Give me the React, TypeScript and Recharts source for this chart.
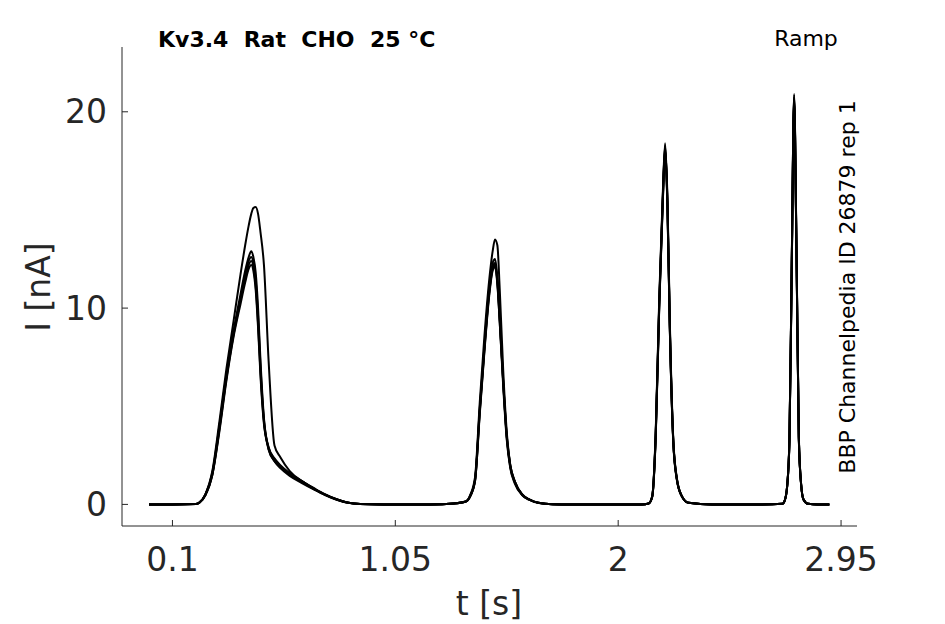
import React from "react";
import { LineChart, Line, XAxis, YAxis } from "recharts";

// sample times [s]
const times = [
  0, 0.1, 0.2, 0.215, 0.24, 0.27, 0.3, 0.33, 0.36, 0.39,
  0.41, 0.425, 0.436, 0.445, 0.455, 0.465, 0.475, 0.49, 0.51, 0.535,
  0.56, 0.6, 0.65, 0.7, 0.75, 0.8, 0.85, 0.9, 1.0, 1.1,
  1.2, 1.3, 1.35, 1.37, 1.39, 1.41, 1.43, 1.45, 1.465, 1.475,
  1.485, 1.495, 1.51, 1.525, 1.54, 1.56, 1.59, 1.62, 1.66, 1.72,
  1.8, 1.9, 2.0, 2.1, 2.13, 2.145, 2.16, 2.175, 2.19, 2.2,
  2.21, 2.22, 2.235, 2.25, 2.27, 2.3, 2.4, 2.5, 2.6, 2.7,
  2.71, 2.72, 2.73, 2.74, 2.75, 2.76, 2.77, 2.78, 2.79, 2.81,
  2.85, 2.9,
];

// current traces [nA], one per repetition
const trace1 = [
  0, 0, 0.02, 0.1, 0.5, 1.7, 4.2, 6.9, 9.3, 11.7,
  13.2, 14.2, 14.8, 15.1, 15.15, 14.8, 13.9, 12.2, 7.3, 3.0,
  2.4, 1.7, 1.2, 0.85, 0.52, 0.26, 0.09, 0.02, 0, 0,
  0, 0.05, 0.15, 0.5, 1.4, 5.2, 8.6, 11.4, 12.9, 13.5,
  13.2, 11.0, 6.8, 3.7, 2.0, 1.15, 0.52, 0.26, 0.08, 0.01,
  0, 0, 0, 0, 0.05, 0.42, 3.7, 10.5, 15.8, 18.4,
  15.6, 9.4, 3.3, 1.35, 0.46, 0.08, 0, 0, 0, 0.03,
  0.2, 0.9, 3.3, 12.5, 20.9, 13.2, 3.5, 1.0, 0.25, 0.03,
  0, 0,
];
const trace2 = [
  0, 0, 0.02, 0.1, 0.5, 1.6, 4.0, 6.6, 8.8, 10.7,
  11.9, 12.6, 12.9, 12.6, 11.8, 10.0, 7.4, 4.4, 2.8, 2.2,
  1.9, 1.5, 1.15, 0.8, 0.5, 0.25, 0.08, 0.02, 0, 0,
  0, 0.05, 0.15, 0.45, 1.3, 4.9, 8.1, 11.0, 12.3, 12.5,
  11.6, 9.6, 6.2, 3.4, 1.9, 1.1, 0.5, 0.25, 0.08, 0.01,
  0, 0, 0, 0, 0.05, 0.4, 3.6, 10.3, 15.6, 18.3,
  15.4, 9.2, 3.2, 1.3, 0.45, 0.08, 0, 0, 0, 0.03,
  0.2, 0.9, 3.3, 12.4, 20.8, 13.1, 3.4, 1.0, 0.25, 0.03,
  0, 0,
];
const trace3 = [
  0, 0, 0.02, 0.1, 0.48, 1.55, 3.9, 6.5, 8.7, 10.5,
  11.7, 12.4, 12.6, 12.3, 11.4, 9.6, 7.1, 4.3, 2.9, 2.3,
  1.95, 1.55, 1.2, 0.82, 0.5, 0.26, 0.08, 0.02, 0, 0,
  0, 0.05, 0.15, 0.45, 1.25, 4.8, 8.0, 10.8, 12.1, 12.3,
  11.4, 9.5, 6.3, 3.5, 2.0, 1.15, 0.5, 0.25, 0.08, 0.01,
  0, 0, 0, 0, 0.05, 0.4, 3.5, 10.2, 15.5, 18.2,
  15.3, 9.1, 3.2, 1.3, 0.45, 0.08, 0, 0, 0, 0.03,
  0.2, 0.9, 3.2, 12.3, 20.7, 13.0, 3.4, 1.0, 0.25, 0.03,
  0, 0,
];
const trace4 = [
  0, 0, 0.02, 0.09, 0.46, 1.5, 3.8, 6.4, 8.6, 10.4,
  11.5, 12.2, 12.4, 12.1, 11.1, 9.2, 6.8, 4.2, 2.8, 2.2,
  1.85, 1.45, 1.1, 0.78, 0.48, 0.24, 0.08, 0.02, 0, 0,
  0, 0.05, 0.14, 0.44, 1.2, 4.7, 7.9, 10.7, 12.0, 12.2,
  11.3, 9.3, 6.0, 3.3, 1.85, 1.05, 0.48, 0.24, 0.07, 0.01,
  0, 0, 0, 0, 0.05, 0.38, 3.5, 10.1, 15.4, 18.1,
  15.2, 9.0, 3.1, 1.25, 0.44, 0.08, 0, 0, 0, 0.03,
  0.2, 0.88, 3.2, 12.2, 20.6, 12.9, 3.3, 0.98, 0.24, 0.03,
  0, 0,
];
const trace5 = [
  0, 0, 0.02, 0.09, 0.45, 1.5, 3.7, 6.3, 8.5, 10.2,
  11.3, 12.0, 12.2, 11.9, 10.9, 9.0, 6.6, 4.1, 2.9, 2.35,
  2.0, 1.6, 1.2, 0.82, 0.5, 0.25, 0.08, 0.02, 0, 0,
  0, 0.05, 0.14, 0.43, 1.2, 4.6, 7.8, 10.6, 11.9, 12.1,
  11.2, 9.3, 6.2, 3.5, 2.0, 1.15, 0.52, 0.26, 0.08, 0.01,
  0, 0, 0, 0, 0.05, 0.38, 3.4, 10.0, 15.3, 18.0,
  15.1, 9.0, 3.2, 1.3, 0.45, 0.08, 0, 0, 0, 0.03,
  0.2, 0.88, 3.2, 12.2, 20.5, 12.9, 3.4, 1.0, 0.25, 0.03,
  0, 0,
];

const traces = [trace1, trace2, trace3, trace4, trace5];

const xTicks = [0.1, 1.05, 2, 2.95];
const yTicks = [0, 10, 20];

const data = times.map((t, i) => {
  const row: any = { t };
  traces.forEach((tr, k) => {
    row["r" + k] = tr[i];
  });
  return row;
});

const font = "'DejaVu Sans', sans-serif";
const axisColor = "#262626";

export default function App() {
  return (
    <div style={{ position: "absolute", left: 0, top: 0, width: 945, height: 624, background: "#fff" }}>
      <LineChart
        width={945}
        height={624}
        data={data}
        margin={{ top: 47, right: 88, bottom: 68, left: 62 }}
      >
        <XAxis
          dataKey="t"
          type="number"
          domain={[-0.115, 3.018]}
          allowDataOverflow
          ticks={xTicks}
          height={30}
          tickSize={-6}
          tickMargin={28}
          stroke={axisColor}
          tick={{ fill: axisColor, fontSize: 33, fontFamily: font }}
        />
        <YAxis
          type="number"
          domain={[-1.1, 23.3]}
          allowDataOverflow
          ticks={yTicks}
          width={60}
          tickSize={-6}
          tickMargin={21}
          stroke={axisColor}
          tick={{ fill: axisColor, fontSize: 33, fontFamily: font }}
        />
        {traces.map((_, k) => (
          <Line
            key={k}
            dataKey={"r" + k}
            type="monotone"
            stroke="#000"
            strokeWidth={2}
            dot={false}
            activeDot={false}
            isAnimationActive={false}
          />
        ))}
      </LineChart>
      <svg
        width={945}
        height={624}
        style={{ position: "absolute", left: 0, top: 0, pointerEvents: "none" }}
        fontFamily={font}
      >
        <text x={158} y={47} fontSize={22} fontWeight="bold" fill="#000" xmlSpace="preserve" style={{ whiteSpace: "pre" }}>
          {"Kv3.4  Rat  CHO  25 °C"}
        </text>
        <text x={806} y={46} fontSize={22} fill="#000" textAnchor="middle">
          Ramp
        </text>
        <text
          x={855}
          y={287}
          fontSize={22}
          fill="#000"
          textAnchor="middle"
          transform="rotate(-90 855 287)"
        >
          BBP Channelpedia ID 26879 rep 1
        </text>
        <text x={489} y={615} fontSize={33} fill={axisColor} textAnchor="middle">
          t [s]
        </text>
        <text
          x={50}
          y={287}
          fontSize={33}
          fill={axisColor}
          textAnchor="middle"
          transform="rotate(-90 50 287)"
        >
          I [nA]
        </text>
      </svg>
    </div>
  );
}
